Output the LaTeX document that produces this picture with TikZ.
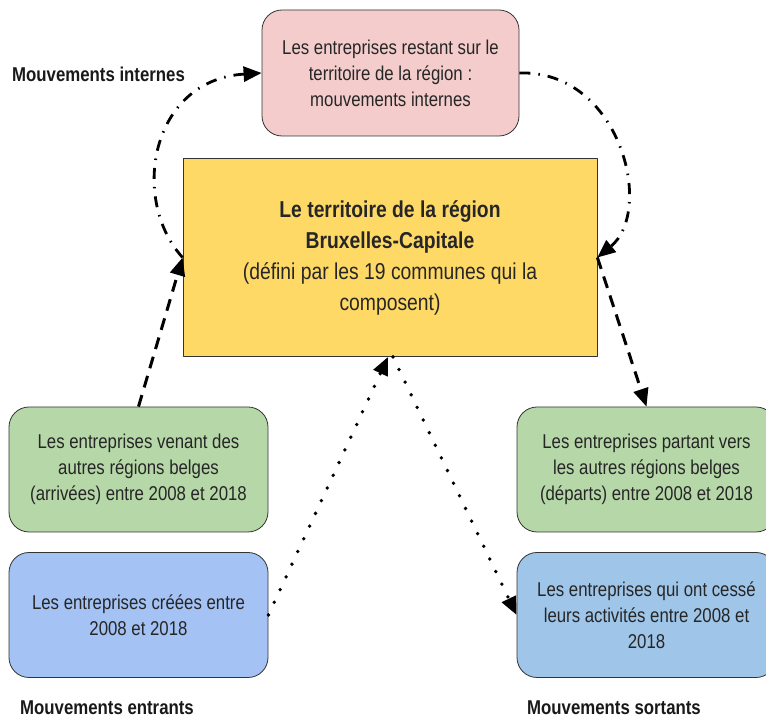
\documentclass[tikz,border=0pt]{standalone}
\usepackage{fontspec}
\setmainfont{Liberation Sans}[FakeStretch=0.84]
\usetikzlibrary{arrows.meta}
\definecolor{rose}{HTML}{F4CCCC}
\definecolor{jaune}{HTML}{FFD966}
\definecolor{vert}{HTML}{B6D7A8}
\definecolor{bleuA}{HTML}{A4C2F4}
\definecolor{bleuB}{HTML}{9FC5E8}
\begin{document}
\begin{tikzpicture}[x=1pt, y=1pt, line join=round, >={Triangle[length=18pt,width=15pt]},
	boite/.style={draw=black!80, line width=0.8pt, rounded corners=20pt, minimum width=259pt, minimum height=125pt, align=center, inner sep=0pt, text=black!85, font=\fontsize{20}{26}\selectfont},
	titre/.style={anchor=west, inner sep=0pt, text=black!90, font=\fontsize{20}{26}\selectfont\bfseries},
	tiret/.style={->, line width=3pt, dash pattern=on 12pt off 8pt},
	pointtiret/.style={->, line width=2.8pt, dash pattern=on 11pt off 8pt on 1.5pt off 8pt},
	pointille/.style={->, line width=3.8pt, line cap=round, dash pattern=on 0pt off 14pt}]
	\useasboundingbox (0,0) rectangle (766,720);
	% les cases
	\node[boite, fill=rose, minimum width=257pt, minimum height=126pt] (interne) at (390.5,647) {Les entreprises restant sur le\\territoire de la région :\\mouvements internes};
	\node[draw=black!80, line width=0.8pt, fill=jaune, minimum width=414pt, minimum height=198pt, align=center, inner sep=0pt, text=black!85, font=\fontsize{23}{31}\selectfont] (region) at (390,462.5) {\textbf{Le territoire de la région}\\\textbf{Bruxelles-Capitale}\\(défini par les 19 communes qui la\\composent)};
	\node[boite, fill=vert] (arrivee) at (138.5,250.5) {Les entreprises venant des\\autres régions belges\\(arrivées) entre 2008 et 2018};
	\node[boite, fill=bleuA] (creation) at (138.5,105) {Les entreprises créées entre\\2008 et 2018};
	\node[boite, fill=vert] (depart) at (646.5,250.5) {Les entreprises partant vers\\les autres régions belges\\(départs) entre 2008 et 2018};
	\node[boite, fill=bleuB] (cessation) at (646.5,105) {Les entreprises qui ont cessé\\leurs activités entre 2008 et\\2018};
	% les titres
	\node[titre] (tinterne) at (12,646) {Mouvements internes};
	\node[titre] (tentrant) at (20,12) {Mouvements entrants};
	\node[titre] (tsortant) at (527,12) {Mouvements sortants};
	% les flèches
	\draw[pointtiret] (region.west) .. controls (130,520) and (150,640) .. (interne.west);
	\draw[pointtiret] (interne.east) .. controls (620,650) and (655,510) .. (region.east);
	\draw[tiret] (arrivee.north) -- (region.west);
	\draw[tiret] (region.east) -- (depart.north);
	\draw[pointille] (creation.east) -- ([xshift=-2pt]region.south);
	\draw[pointille] ([xshift=3pt]region.south) -- (cessation.west);
\end{tikzpicture}
\end{document}
